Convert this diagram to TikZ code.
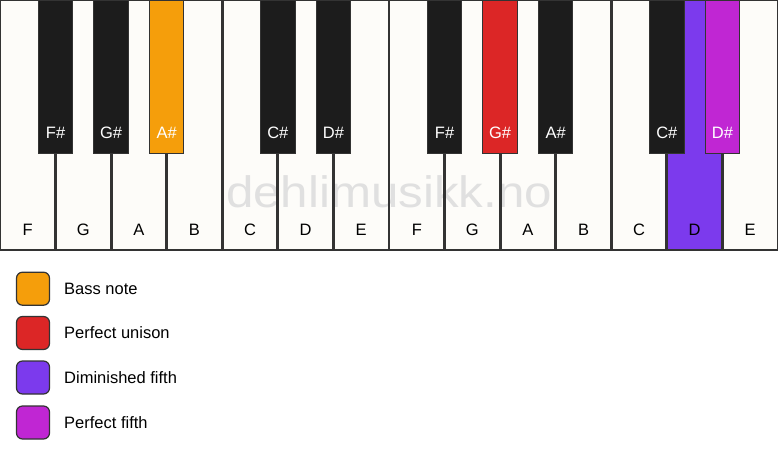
\documentclass[tikz,border=0pt]{standalone}
\usepackage{fontspec}
\setmainfont{Liberation Sans}
\definecolor{keywhite}{HTML}{FDFCF9}
\definecolor{keyblack}{HTML}{1C1C1C}
\definecolor{keyline}{HTML}{333333}
\definecolor{bassc}{HTML}{F59E0B}
\definecolor{unisonc}{HTML}{DC2626}
\definecolor{dimc}{HTML}{7C3AED}
\definecolor{fifthc}{HTML}{C026D3}
\definecolor{wmark}{HTML}{E0E0E0}
\tikzset{
  whitekey/.style={draw=keyline, line width=1.4pt, fill=keywhite, rectangle, minimum width=55.571pt, minimum height=250pt, inner sep=0pt},
  blackkey/.style={draw=keyline, line width=1pt, fill=keyblack, rectangle, minimum width=34.5pt, minimum height=153pt, inner sep=0pt},
  wlabel/.style={font=\fontsize{16.5}{18}\selectfont, text=black, inner sep=0pt},
  blabel/.style={font=\fontsize{16.5}{18}\selectfont, text=white, inner sep=0pt},
  legbox/.style={draw=keyline, line width=1.2pt, rounded corners=6pt, minimum width=33pt, minimum height=33pt, inner sep=0pt},
  legtext/.style={font=\fontsize{16.5}{18}\selectfont, anchor=west, inner sep=0pt},
}
\begin{document}
\begin{tikzpicture}[x=1pt,y=-1pt]
\useasboundingbox (0,0) rectangle (778,461);
\fill[white] (0,0) rectangle (778,461);
% white keys
\foreach \i/\n/\c in {0/F/keywhite,1/G/keywhite,2/A/keywhite,3/B/keywhite,4/C/keywhite,5/D/keywhite,6/E/keywhite,7/F/keywhite,8/G/keywhite,9/A/keywhite,10/B/keywhite,11/C/keywhite,12/D/dimc,13/E/keywhite}{
  \node[whitekey, fill=\c] (w\i) at ({55.571*\i+27.786},125) {};
}
% watermark
\node[text=wmark, font=\fontsize{44}{48}\selectfont, xscale=1.12, inner sep=0pt] (wm) at (389,192) {dehlimusikk.no};
% redraw white key borders over watermark
\foreach \i in {0,...,13}{
  \draw[keyline, line width=1.4pt] (w\i.north west) rectangle (w\i.south east);
}
% white labels
\foreach \i/\n in {0/F,1/G,2/A,3/B,4/C,5/D,6/E,7/F,8/G,9/A,10/B,11/C,12/D,13/E}{
  \node[wlabel] (wl\i) at ({55.571*\i+27.786},230) {\n};
}
% black keys
\foreach \i/\n/\c in {1/F\#/keyblack,2/G\#/keyblack,3/A\#/bassc,5/C\#/keyblack,6/D\#/keyblack,8/F\#/keyblack,9/G\#/unisonc,10/A\#/keyblack,12/C\#/keyblack,13/D\#/fifthc}{
  \node[blackkey, fill=\c] (b\i) at ({55.571*\i},76.5) {};
  \node[blabel] (bl\i) at ({55.571*\i},133) {\n};
}
% legend
\node[legbox, fill=bassc] (lg1) at (33,288.7) {};
\node[legtext] (lt1) at (64,288.7) {Bass note};
\node[legbox, fill=unisonc] (lg2) at (33,333) {};
\node[legtext] (lt2) at (64,333) {Perfect unison};
\node[legbox, fill=dimc] (lg3) at (33,377.5) {};
\node[legtext] (lt3) at (64,377.5) {Diminished fifth};
\node[legbox, fill=fifthc] (lg4) at (33,422.5) {};
\node[legtext] (lt4) at (64,422.5) {Perfect fifth};
\end{tikzpicture}
\end{document}
